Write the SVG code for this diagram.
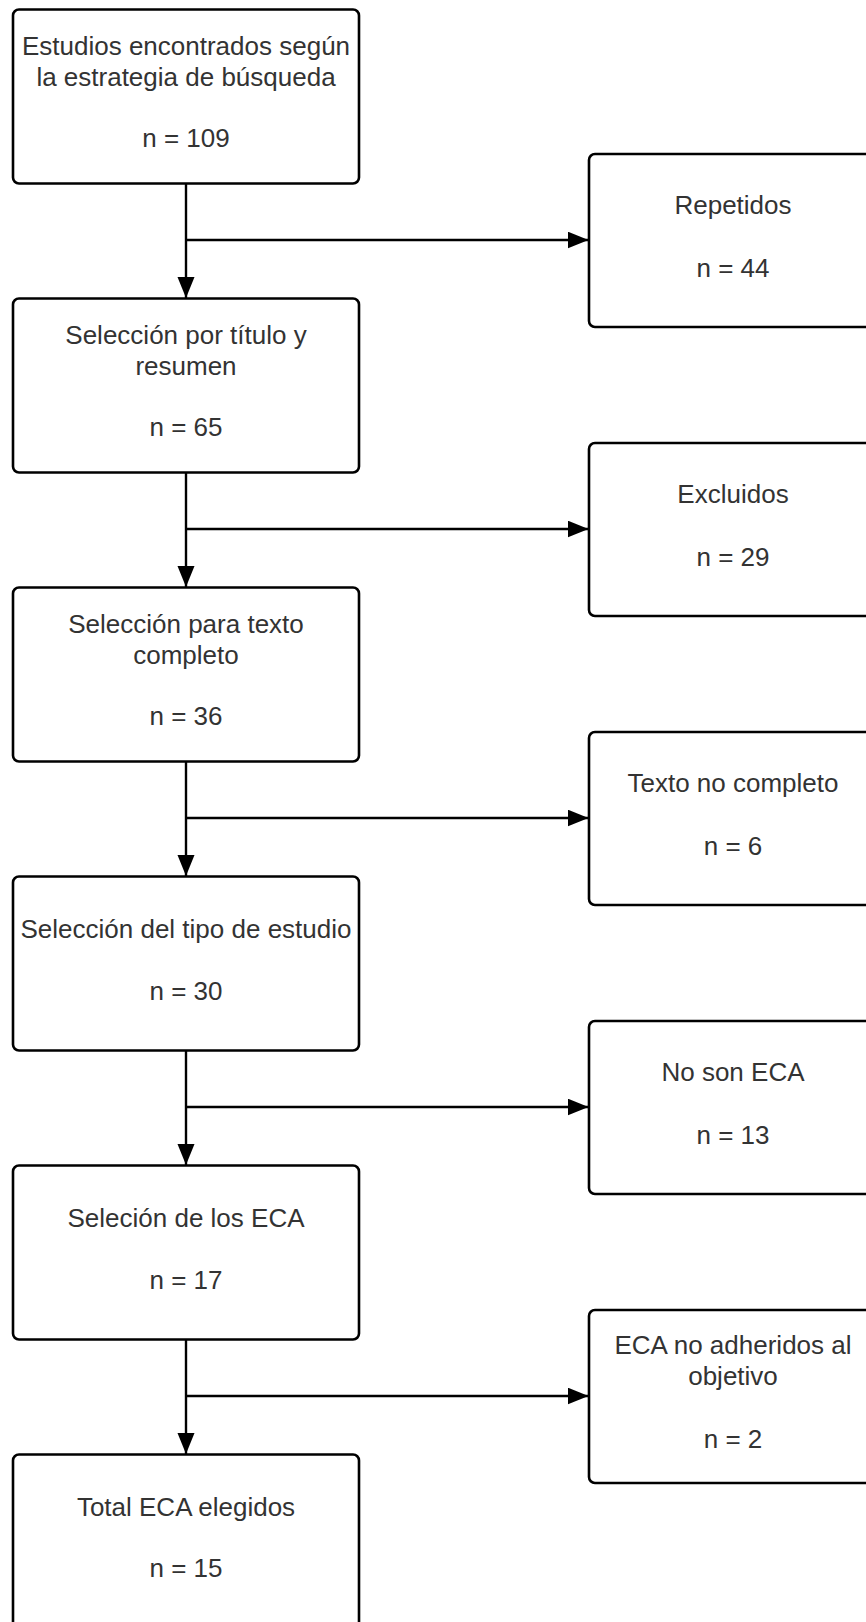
<svg xmlns="http://www.w3.org/2000/svg" width="866" height="1622" viewBox="0 0 866 1622">
<style>
.box{fill:#fff;stroke:#000;stroke-width:2.6}
.t{font-family:"Liberation Sans",Arial,sans-serif;font-size:26px;fill:#333;text-anchor:middle}
.c{fill:none;stroke:#000;stroke-width:2.4}
</style>
<defs>
<marker id="ah" markerUnits="userSpaceOnUse" markerWidth="22" markerHeight="18" refX="21" refY="8.5" orient="auto">
<path d="M0,0 L21,8.5 L0,17 Z" fill="#000"/>
</marker>
</defs>
<rect width="866" height="1622" fill="#fff"/>
<g id="connectors">
<path class="c" d="M186,183.5 V298" marker-end="url(#ah)"/>
<path class="c" d="M186,240 H588.5" marker-end="url(#ah)"/>
<path class="c" d="M186,472.5 V587" marker-end="url(#ah)"/>
<path class="c" d="M186,529 H588.5" marker-end="url(#ah)"/>
<path class="c" d="M186,761.5 V876" marker-end="url(#ah)"/>
<path class="c" d="M186,818 H588.5" marker-end="url(#ah)"/>
<path class="c" d="M186,1050.5 V1165" marker-end="url(#ah)"/>
<path class="c" d="M186,1107 H588.5" marker-end="url(#ah)"/>
<path class="c" d="M186,1339.5 V1454" marker-end="url(#ah)"/>
<path class="c" d="M186,1396 H588.5" marker-end="url(#ah)"/>
</g>
<g id="n1">
<rect class="box" x="13" y="9.5" width="346" height="174" rx="6"/>
<text class="t" x="186" y="55">Estudios encontrados según</text>
<text class="t" x="186" y="86">la estrategia de búsqueda</text>
<text class="t" x="186" y="147">n = 109</text>
</g>
<g id="r1">
<rect class="box" x="589" y="154" width="300" height="173" rx="6"/>
<text class="t" x="733" y="214">Repetidos</text>
<text class="t" x="733" y="276.5">n = 44</text>
</g>
<g id="n2">
<rect class="box" x="13" y="298.5" width="346" height="174" rx="6"/>
<text class="t" x="186" y="344">Selección por título y</text>
<text class="t" x="186" y="375">resumen</text>
<text class="t" x="186" y="436">n = 65</text>
</g>
<g id="r2">
<rect class="box" x="589" y="443" width="300" height="173" rx="6"/>
<text class="t" x="733" y="503">Excluidos</text>
<text class="t" x="733" y="565.5">n = 29</text>
</g>
<g id="n3">
<rect class="box" x="13" y="587.5" width="346" height="174" rx="6"/>
<text class="t" x="186" y="633">Selección para texto</text>
<text class="t" x="186" y="664">completo</text>
<text class="t" x="186" y="725">n = 36</text>
</g>
<g id="r3">
<rect class="box" x="589" y="732" width="300" height="173" rx="6"/>
<text class="t" x="733" y="792">Texto no completo</text>
<text class="t" x="733" y="854.5">n = 6</text>
</g>
<g id="n4">
<rect class="box" x="13" y="876.5" width="346" height="174" rx="6"/>
<text class="t" x="186" y="938">Selección del tipo de estudio</text>
<text class="t" x="186" y="999.5">n = 30</text>
</g>
<g id="r4">
<rect class="box" x="589" y="1021" width="300" height="173" rx="6"/>
<text class="t" x="733" y="1081">No son ECA</text>
<text class="t" x="733" y="1143.5">n = 13</text>
</g>
<g id="n5">
<rect class="box" x="13" y="1165.5" width="346" height="174" rx="6"/>
<text class="t" x="186" y="1227">Seleción de los ECA</text>
<text class="t" x="186" y="1288.5">n = 17</text>
</g>
<g id="r5">
<rect class="box" x="589" y="1310" width="300" height="173" rx="6"/>
<text class="t" x="733" y="1354">ECA no adheridos al</text>
<text class="t" x="733" y="1385">objetivo</text>
<text class="t" x="733" y="1448">n = 2</text>
</g>
<g id="n6">
<rect class="box" x="13" y="1454.5" width="346" height="174" rx="6"/>
<text class="t" x="186" y="1515.5">Total ECA elegidos</text>
<text class="t" x="186" y="1577">n = 15</text>
</g>
</svg>
